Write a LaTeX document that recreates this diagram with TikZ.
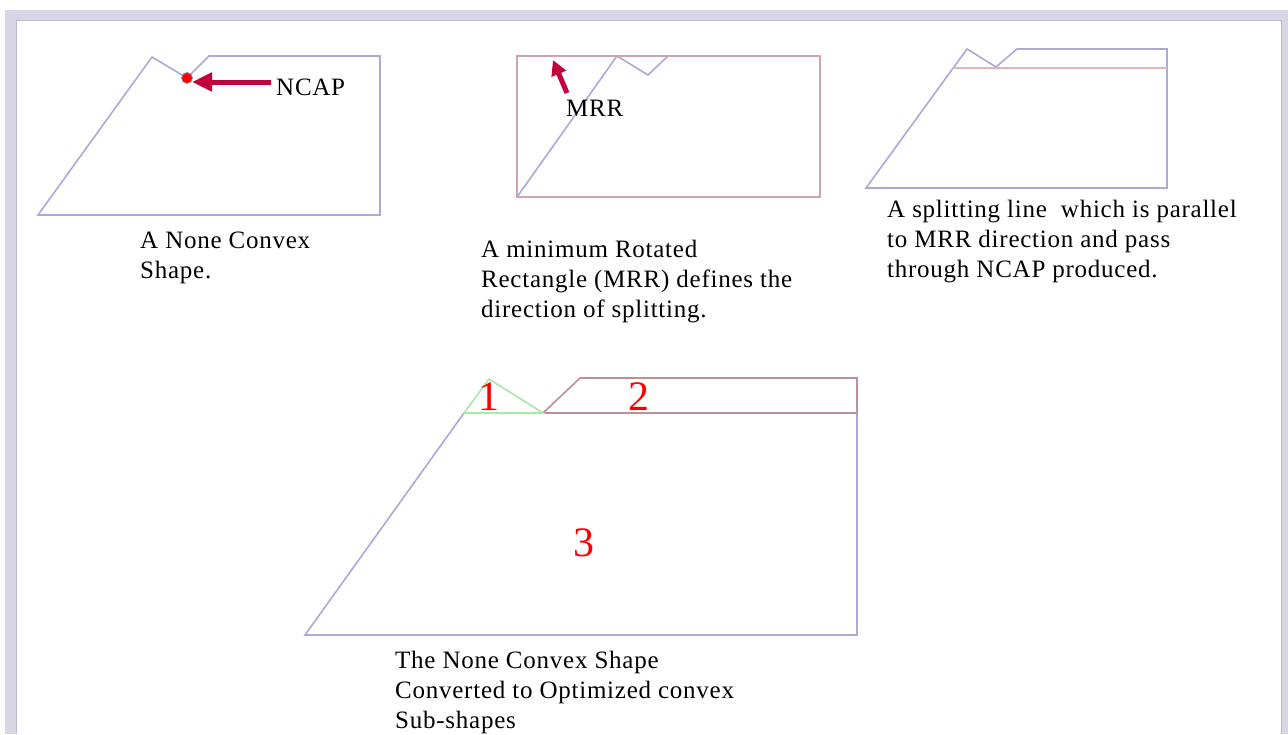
\documentclass[tikz,border=0pt]{standalone}
\usepackage{fontspec}
\setmainfont{Liberation Serif}[LetterSpace=3.0]
\usetikzlibrary{arrows.meta}
\definecolor{framegray}{HTML}{D8D6E4}
\definecolor{frameedge}{HTML}{BDBACD}
\definecolor{shapeblue}{HTML}{AAAADA}
\definecolor{arrowred}{HTML}{C2003E}
\definecolor{mrrpink}{HTML}{D0A4AC}
\definecolor{splitpink}{HTML}{E2B4B4}
\definecolor{regionbrown}{HTML}{BC9096}
\definecolor{regiongreen}{HTML}{A8E8A8}
\definecolor{dotedge}{HTML}{8E8EC4}
\newcommand{\capt}[1]{\begin{tabular}[t]{@{}l@{}}#1\end{tabular}}
\tikzset{
  outline/.style={draw=shapeblue,line width=1.6pt,line join=miter},
  caption/.style={anchor=base west,inner sep=0pt,font=\fontsize{25}{30}\selectfont},
  label/.style={anchor=base west,inner sep=0pt,font=\fontsize{25}{30}\selectfont},
  regionnum/.style={text=red,inner sep=0pt,font=\fontsize{42}{42}\selectfont},
  pointer/.style={draw=arrowred,line width=5pt,-{Triangle[length=20pt,width=18pt]}},
  smallpointer/.style={draw=arrowred,line width=5pt,-{Triangle[length=15pt,width=15pt]}}
}
\begin{document}
\begin{tikzpicture}[x=1pt,y=-1pt]
\useasboundingbox (0,0) rectangle (1288,734);
% frame
\fill[framegray] (5,10) rectangle (1288,734);
\fill[white] (16,20) rectangle (1281,734);
\draw[frameedge,line width=1pt] (16,734) -- (16,20) -- (1281,20) -- (1281,734);

% ---- shape 1: non convex shape
\draw[outline] (38,215) -- (152,57) -- (187,78) -- (209,56) -- (380,56) -- (380,215) -- cycle;
\coordinate (ncapdot) at (187,78);
\coordinate (ncaptip) at (192,82);
\node[label] (ncaplbl) at (276,95) {NCAP};
\coordinate (ncaptail) at (271,82);
\draw[pointer] (ncaptail) -- (ncaptip);
\fill[red,draw=dotedge,line width=0.8pt] (ncapdot) circle (5.5);
\node[caption] (cap1) at (140,248) {\capt{A None Convex\\Shape.}};

% ---- shape 2: MRR
\draw[outline] (517,197) -- (617,56) -- (648,75) -- (668,56) -- (820,56);
\draw[mrrpink,line width=1.6pt] (517,56) rectangle (820,197);
\node[label] (mrrlbl) at (566,116) {MRR};
\coordinate (mrrtail) at (567,93);
\coordinate (mrrtip) at (553,60);
\draw[smallpointer] (mrrtail) -- (mrrtip);
\node[caption] (cap2) at (481,257) {\capt{A minimum Rotated\\Rectangle (MRR) defines the\\direction of splitting.}};

% ---- shape 3: splitting line
\draw[outline] (866,188) -- (967,49) -- (996,67) -- (1017,49) -- (1167,49) -- (1167,188) -- cycle;
\coordinate (splitl) at (953,68);
\coordinate (splitr) at (1167,68);
\draw[splitpink,line width=1.6pt] (splitl) -- (splitr);
\node[caption] (cap3) at (887,217) {\capt{A splitting line\ \ which is parallel\\to MRR direction and pass\\through NCAP produced.}};

% ---- shape 4: convex sub-shapes
\draw[outline] (305,635) -- (464,413) -- (857,413) -- (857,635) -- cycle;
\draw[regionbrown,line width=1.6pt] (543,413) -- (580,378) -- (857,378) -- (857,413) -- cycle;
\draw[regiongreen,line width=1.6pt] (464,413) -- (489,379) -- (543,413) -- cycle;
\node[regionnum] (r1) at (489,397) {1};
\node[regionnum] (r2) at (639,397) {2};
\node[regionnum] (r3) at (584,543) {3};
\node[caption] (cap4) at (395,668) {\capt{The None Convex Shape\\Converted to Optimized convex\\Sub-shapes}};
\end{tikzpicture}
\end{document}
